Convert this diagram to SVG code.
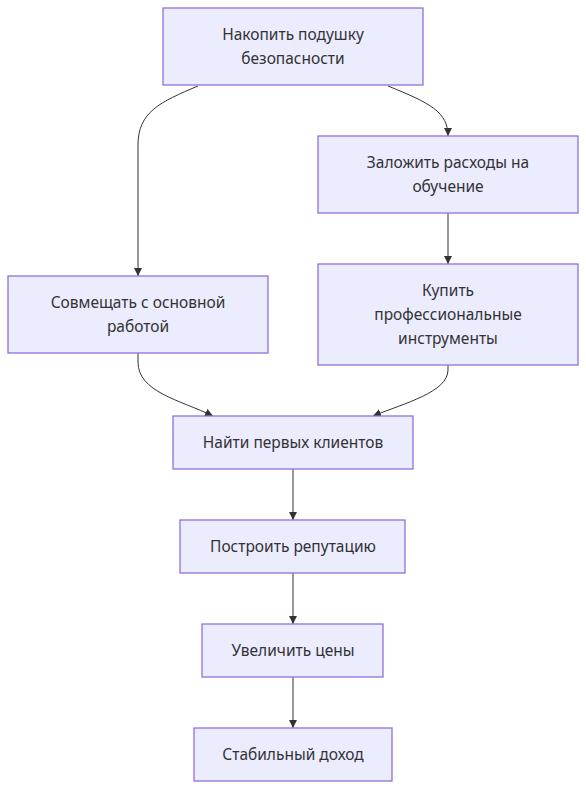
<svg xmlns="http://www.w3.org/2000/svg" width="586" height="790" viewBox="0 0 586 790">
<style>
.node rect{fill:#ECECFF;stroke:#9370DB;stroke-width:1.3px}
.node text{font-family:"Noto Sans","DejaVu Sans",sans-serif;font-size:15.5px;fill:#333;text-anchor:middle}
.edge path{fill:none;stroke:#333;stroke-width:1px}
</style>
<defs>
<marker id="arr" viewBox="0 0 10 10" refX="10" refY="5" markerWidth="8" markerHeight="8" markerUnits="userSpaceOnUse" orient="auto">
<path d="M0,0 L10,5 L0,10 z" fill="#333"/>
</marker>
</defs>
<rect width="586" height="790" fill="#fff"/>
<g id="edges" class="edge">
<path d="M198,86 C160,102 138,112 138,145 L138,276" marker-end="url(#arr)"/>
<path d="M388,86 C430,103 448,112 448,136" marker-end="url(#arr)"/>
<path d="M448,213 L448,264" marker-end="url(#arr)"/>
<path d="M138,353 L138,362 C138,392 180,400 213,416" marker-end="url(#arr)"/>
<path d="M448,365 L448,370 C448,392 405,403 373,416" marker-end="url(#arr)"/>
<path d="M293,469 L293,520" marker-end="url(#arr)"/>
<path d="M293,573 L293,624" marker-end="url(#arr)"/>
<path d="M293,677 L293,728" marker-end="url(#arr)"/>
</g>
<g id="n1" class="node"><rect x="163" y="8" width="260" height="77"/><text x="293" y="40">Накопить подушку</text><text x="293" y="64">безопасности</text></g>
<g id="n2" class="node"><rect x="318" y="136" width="260" height="77"/><text x="448" y="168">Заложить расходы на</text><text x="448" y="192">обучение</text></g>
<g id="n3" class="node"><rect x="8" y="276" width="260" height="77"/><text x="138" y="308">Совмещать с основной</text><text x="138" y="332">работой</text></g>
<g id="n4" class="node"><rect x="318" y="264" width="260" height="101"/><text x="448" y="296">Купить</text><text x="448" y="320">профессиональные</text><text x="448" y="344">инструменты</text></g>
<g id="n5" class="node"><rect x="173" y="416" width="240" height="53"/><text x="293" y="448">Найти первых клиентов</text></g>
<g id="n6" class="node"><rect x="180" y="520" width="225" height="53"/><text x="293" y="552">Построить репутацию</text></g>
<g id="n7" class="node"><rect x="202" y="624" width="181" height="53"/><text x="293" y="656">Увеличить цены</text></g>
<g id="n8" class="node"><rect x="194" y="728" width="198" height="53"/><text x="293" y="760">Стабильный доход</text></g>
</svg>
